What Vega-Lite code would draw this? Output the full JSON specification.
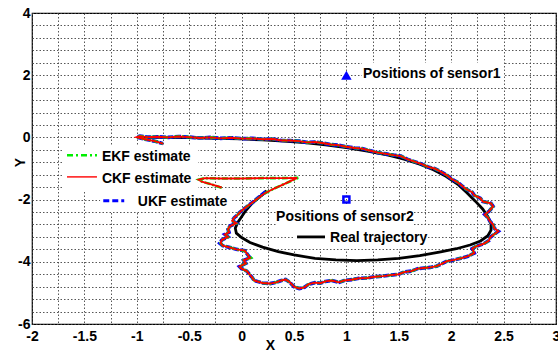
{
  "$schema": "https://vega.github.io/schema/vega-lite/v6.json",
  "width": 524,
  "height": 311,
  "autosize": "none",
  "padding": {"left": 32, "top": 13, "right": 2, "bottom": 28},
  "config": {"view": {"stroke": "#000", "strokeWidth": 1.2}, "font": "Liberation Sans"},
  "datasets": {
    "boxes": [
      {"x": -1.714, "x2": -0.416, "y": -0.28, "y2": -1.70},
      {"x": -1.35, "x2": -0.09, "y": -1.70, "y2": -2.40},
      {"x": 1.149, "x2": 2.504, "y": 2.39, "y2": 1.59},
      {"x": 0.328, "x2": 1.645, "y": -2.2, "y2": -2.82},
      {"x": 0.5, "x2": 1.779, "y": -2.85, "y2": -3.59}
    ],
    "real": [
      {"x": 0.24, "y": -1.72}, {"x": 0.17, "y": -1.92}, {"x": 0.1, "y": -2.12}, {"x": 0.04, "y": -2.35},
      {"x": 0.0, "y": -2.55}, {"x": -0.04, "y": -2.75}, {"x": -0.06, "y": -2.92}, {"x": -0.05, "y": -3.08},
      {"x": 0.0, "y": -3.22}, {"x": 0.08, "y": -3.38}, {"x": 0.2, "y": -3.53}, {"x": 0.35, "y": -3.67},
      {"x": 0.5, "y": -3.78}, {"x": 0.7, "y": -3.89}, {"x": 0.9, "y": -3.94}, {"x": 1.1, "y": -3.96},
      {"x": 1.3, "y": -3.94}, {"x": 1.5, "y": -3.89}, {"x": 1.7, "y": -3.8}, {"x": 1.9, "y": -3.68},
      {"x": 2.05, "y": -3.58}, {"x": 2.18, "y": -3.46}, {"x": 2.28, "y": -3.33}, {"x": 2.35, "y": -3.16},
      {"x": 2.38, "y": -2.98}, {"x": 2.38, "y": -2.78}, {"x": 2.35, "y": -2.55}, {"x": 2.3, "y": -2.3},
      {"x": 2.23, "y": -2.05}, {"x": 2.15, "y": -1.78}, {"x": 2.06, "y": -1.5}, {"x": 1.95, "y": -1.25},
      {"x": 1.83, "y": -1.04}, {"x": 1.7, "y": -0.86}, {"x": 1.55, "y": -0.7}, {"x": 1.4, "y": -0.57},
      {"x": 1.2, "y": -0.44}, {"x": 1.0, "y": -0.33}, {"x": 0.8, "y": -0.24}, {"x": 0.6, "y": -0.17},
      {"x": 0.4, "y": -0.12}, {"x": 0.2, "y": -0.08}, {"x": 0.0, "y": -0.05}, {"x": -0.25, "y": -0.03},
      {"x": -0.5, "y": -0.01}, {"x": -0.75, "y": 0.0}, {"x": -1.0, "y": 0.0}
    ],
    "ukf": [
      {"x": 0.23, "y": -1.74}, {"x": 0.18, "y": -1.88}, {"x": 0.15, "y": -1.96}, {"x": 0.1, "y": -2.1},
      {"x": 0.06, "y": -2.2}, {"x": 0.02, "y": -2.31}, {"x": -0.02, "y": -2.42}, {"x": -0.04, "y": -2.5},
      {"x": -0.07, "y": -2.58}, {"x": -0.09, "y": -2.68}, {"x": -0.05, "y": -2.76}, {"x": -0.11, "y": -2.85},
      {"x": -0.13, "y": -2.95}, {"x": -0.12, "y": -3.05}, {"x": -0.16, "y": -3.12}, {"x": -0.13, "y": -3.2},
      {"x": -0.19, "y": -3.3}, {"x": -0.21, "y": -3.4}, {"x": -0.18, "y": -3.48}, {"x": -0.1, "y": -3.55},
      {"x": -0.05, "y": -3.6}, {"x": 0.03, "y": -3.64}, {"x": 0.06, "y": -3.78}, {"x": 0.08, "y": -3.87},
      {"x": 0.02, "y": -3.95}, {"x": 0.04, "y": -4.05}, {"x": -0.02, "y": -4.15}, {"x": 0.0, "y": -4.22},
      {"x": 0.05, "y": -4.3}, {"x": 0.08, "y": -4.42}, {"x": 0.1, "y": -4.5}, {"x": 0.12, "y": -4.6},
      {"x": 0.2, "y": -4.68}, {"x": 0.27, "y": -4.7}, {"x": 0.33, "y": -4.66}, {"x": 0.38, "y": -4.6},
      {"x": 0.42, "y": -4.57}, {"x": 0.46, "y": -4.66}, {"x": 0.5, "y": -4.8}, {"x": 0.55, "y": -4.86},
      {"x": 0.6, "y": -4.82}, {"x": 0.64, "y": -4.72}, {"x": 0.7, "y": -4.67}, {"x": 0.75, "y": -4.69},
      {"x": 0.8, "y": -4.63}, {"x": 0.86, "y": -4.6}, {"x": 0.93, "y": -4.66}, {"x": 0.98, "y": -4.6},
      {"x": 1.06, "y": -4.57}, {"x": 1.12, "y": -4.53}, {"x": 1.2, "y": -4.52}, {"x": 1.27, "y": -4.48},
      {"x": 1.35, "y": -4.46}, {"x": 1.42, "y": -4.43}, {"x": 1.5, "y": -4.4}, {"x": 1.55, "y": -4.33},
      {"x": 1.62, "y": -4.3}, {"x": 1.68, "y": -4.22}, {"x": 1.74, "y": -4.2}, {"x": 1.8, "y": -4.18},
      {"x": 1.86, "y": -4.14}, {"x": 1.9, "y": -4.08}, {"x": 1.96, "y": -3.98}, {"x": 2.03, "y": -3.94},
      {"x": 2.1, "y": -3.88}, {"x": 2.16, "y": -3.82}, {"x": 2.22, "y": -3.72}, {"x": 2.2, "y": -3.58},
      {"x": 2.24, "y": -3.5}, {"x": 2.31, "y": -3.42}, {"x": 2.36, "y": -3.32}, {"x": 2.37, "y": -3.22},
      {"x": 2.4, "y": -3.14}, {"x": 2.45, "y": -3.02}, {"x": 2.41, "y": -2.92}, {"x": 2.4, "y": -2.8},
      {"x": 2.37, "y": -2.7}, {"x": 2.35, "y": -2.58}, {"x": 2.32, "y": -2.48}, {"x": 2.36, "y": -2.38},
      {"x": 2.4, "y": -2.22}, {"x": 2.38, "y": -2.12}, {"x": 2.3, "y": -2.06}, {"x": 2.28, "y": -1.96},
      {"x": 2.22, "y": -1.86}, {"x": 2.2, "y": -1.76}, {"x": 2.14, "y": -1.66}, {"x": 2.1, "y": -1.55},
      {"x": 2.06, "y": -1.44}, {"x": 2.0, "y": -1.33}, {"x": 1.96, "y": -1.22}, {"x": 1.9, "y": -1.1},
      {"x": 1.84, "y": -1.0}, {"x": 1.78, "y": -0.95}, {"x": 1.72, "y": -0.86}, {"x": 1.65, "y": -0.78},
      {"x": 1.58, "y": -0.7}, {"x": 1.52, "y": -0.6}, {"x": 1.45, "y": -0.57}, {"x": 1.38, "y": -0.53},
      {"x": 1.3, "y": -0.49}, {"x": 1.22, "y": -0.42}, {"x": 1.15, "y": -0.36}, {"x": 1.08, "y": -0.34},
      {"x": 1.0, "y": -0.3}, {"x": 0.92, "y": -0.25}, {"x": 0.85, "y": -0.23}, {"x": 0.77, "y": -0.18},
      {"x": 0.7, "y": -0.15}, {"x": 0.62, "y": -0.16}, {"x": 0.55, "y": -0.12}, {"x": 0.46, "y": -0.1},
      {"x": 0.38, "y": -0.1}, {"x": 0.3, "y": -0.05}, {"x": 0.2, "y": -0.06}, {"x": 0.1, "y": -0.03},
      {"x": 0.0, "y": -0.04}, {"x": -0.1, "y": -0.01}, {"x": -0.2, "y": -0.03}, {"x": -0.3, "y": 0.0},
      {"x": -0.4, "y": -0.02}, {"x": -0.5, "y": 0.01}, {"x": -0.6, "y": 0.03}, {"x": -0.7, "y": 0.0},
      {"x": -0.8, "y": 0.02}, {"x": -0.9, "y": 0.01}, {"x": -0.97, "y": 0.04}, {"x": -1.0, "y": 0.01},
      {"x": -0.92, "y": -0.06}, {"x": -0.83, "y": -0.12}, {"x": -0.75, "y": -0.2}
    ],
    "ekf": [
      {"x": -0.19, "y": -1.62}, {"x": -0.28, "y": -1.52}, {"x": -0.38, "y": -1.42}, {"x": -0.41, "y": -1.36},
      {"x": -0.35, "y": -1.31}, {"x": -0.2, "y": -1.32}, {"x": 0.0, "y": -1.32}, {"x": 0.2, "y": -1.31},
      {"x": 0.4, "y": -1.31}, {"x": 0.54, "y": -1.3}, {"x": 0.42, "y": -1.48}, {"x": 0.3, "y": -1.66},
      {"x": 0.21, "y": -1.82}, {"x": 0.16, "y": -1.95}, {"x": 0.1, "y": -2.11}, {"x": 0.06, "y": -2.2},
      {"x": 0.02, "y": -2.3}, {"x": -0.02, "y": -2.42}, {"x": -0.04, "y": -2.5}, {"x": -0.07, "y": -2.58},
      {"x": -0.09, "y": -2.68}, {"x": -0.05, "y": -2.77}, {"x": -0.11, "y": -2.85}, {"x": -0.13, "y": -2.95},
      {"x": -0.12, "y": -3.05}, {"x": -0.16, "y": -3.12}, {"x": -0.13, "y": -3.2}, {"x": -0.19, "y": -3.3},
      {"x": -0.2, "y": -3.4}, {"x": -0.18, "y": -3.48}, {"x": -0.1, "y": -3.55}, {"x": -0.05, "y": -3.6},
      {"x": 0.03, "y": -3.65}, {"x": 0.06, "y": -3.78}, {"x": 0.09, "y": -3.87}, {"x": 0.02, "y": -3.95},
      {"x": 0.04, "y": -4.05}, {"x": -0.02, "y": -4.15}, {"x": 0.0, "y": -4.22}, {"x": 0.05, "y": -4.3},
      {"x": 0.08, "y": -4.42}, {"x": 0.1, "y": -4.5}, {"x": 0.12, "y": -4.6}, {"x": 0.2, "y": -4.68},
      {"x": 0.27, "y": -4.71}, {"x": 0.33, "y": -4.66}, {"x": 0.38, "y": -4.6}, {"x": 0.42, "y": -4.57},
      {"x": 0.46, "y": -4.66}, {"x": 0.5, "y": -4.8}, {"x": 0.55, "y": -4.85}, {"x": 0.6, "y": -4.82},
      {"x": 0.64, "y": -4.72}, {"x": 0.7, "y": -4.67}, {"x": 0.75, "y": -4.69}, {"x": 0.8, "y": -4.63},
      {"x": 0.86, "y": -4.6}, {"x": 0.93, "y": -4.66}, {"x": 0.98, "y": -4.6}, {"x": 1.06, "y": -4.57},
      {"x": 1.12, "y": -4.53}, {"x": 1.2, "y": -4.52}, {"x": 1.27, "y": -4.48}, {"x": 1.35, "y": -4.46},
      {"x": 1.42, "y": -4.43}, {"x": 1.5, "y": -4.4}, {"x": 1.55, "y": -4.33}, {"x": 1.62, "y": -4.3},
      {"x": 1.68, "y": -4.22}, {"x": 1.74, "y": -4.2}, {"x": 1.8, "y": -4.18}, {"x": 1.86, "y": -4.14},
      {"x": 1.9, "y": -4.08}, {"x": 1.96, "y": -3.98}, {"x": 2.03, "y": -3.94}, {"x": 2.1, "y": -3.88},
      {"x": 2.16, "y": -3.82}, {"x": 2.22, "y": -3.72}, {"x": 2.2, "y": -3.58}, {"x": 2.24, "y": -3.5},
      {"x": 2.31, "y": -3.42}, {"x": 2.36, "y": -3.32}, {"x": 2.37, "y": -3.22}, {"x": 2.4, "y": -3.14},
      {"x": 2.45, "y": -3.02}, {"x": 2.41, "y": -2.92}, {"x": 2.4, "y": -2.8}, {"x": 2.37, "y": -2.7},
      {"x": 2.35, "y": -2.58}, {"x": 2.32, "y": -2.48}, {"x": 2.36, "y": -2.38}, {"x": 2.4, "y": -2.22},
      {"x": 2.38, "y": -2.12}, {"x": 2.3, "y": -2.06}, {"x": 2.28, "y": -1.96}, {"x": 2.22, "y": -1.86},
      {"x": 2.2, "y": -1.76}, {"x": 2.14, "y": -1.66}, {"x": 2.1, "y": -1.55}, {"x": 2.06, "y": -1.44},
      {"x": 2.0, "y": -1.33}, {"x": 1.96, "y": -1.22}, {"x": 1.9, "y": -1.1}, {"x": 1.84, "y": -1.0},
      {"x": 1.78, "y": -0.95}, {"x": 1.72, "y": -0.86}, {"x": 1.65, "y": -0.78}, {"x": 1.58, "y": -0.7},
      {"x": 1.52, "y": -0.6}, {"x": 1.45, "y": -0.57}, {"x": 1.38, "y": -0.53}, {"x": 1.3, "y": -0.49},
      {"x": 1.22, "y": -0.42}, {"x": 1.15, "y": -0.36}, {"x": 1.08, "y": -0.34}, {"x": 1.0, "y": -0.3},
      {"x": 0.92, "y": -0.25}, {"x": 0.85, "y": -0.23}, {"x": 0.77, "y": -0.18}, {"x": 0.7, "y": -0.15},
      {"x": 0.62, "y": -0.16}, {"x": 0.55, "y": -0.12}, {"x": 0.46, "y": -0.1}, {"x": 0.38, "y": -0.1},
      {"x": 0.3, "y": -0.05}, {"x": 0.2, "y": -0.06}, {"x": 0.1, "y": -0.03}, {"x": 0.0, "y": -0.04},
      {"x": -0.1, "y": -0.01}, {"x": -0.2, "y": -0.03}, {"x": -0.3, "y": 0.0}, {"x": -0.4, "y": -0.02},
      {"x": -0.5, "y": 0.01}, {"x": -0.6, "y": 0.03}, {"x": -0.7, "y": 0.0}, {"x": -0.8, "y": 0.02},
      {"x": -0.9, "y": 0.01}, {"x": -0.97, "y": 0.04}, {"x": -1.0, "y": 0.01}, {"x": -0.92, "y": -0.06},
      {"x": -0.83, "y": -0.12}, {"x": -0.75, "y": -0.2}
    ],
    "ckf": [
      {"x": -0.19, "y": -1.61}, {"x": -0.28, "y": -1.52}, {"x": -0.38, "y": -1.42}, {"x": -0.41, "y": -1.36},
      {"x": -0.35, "y": -1.31}, {"x": -0.2, "y": -1.32}, {"x": 0.0, "y": -1.32}, {"x": 0.2, "y": -1.31},
      {"x": 0.4, "y": -1.31}, {"x": 0.53, "y": -1.3}, {"x": 0.42, "y": -1.48}, {"x": 0.3, "y": -1.66},
      {"x": 0.21, "y": -1.82}, {"x": 0.16, "y": -1.95}, {"x": 0.1, "y": -2.1}, {"x": 0.06, "y": -2.2},
      {"x": 0.02, "y": -2.3}, {"x": -0.02, "y": -2.42}, {"x": -0.04, "y": -2.5}, {"x": -0.07, "y": -2.58},
      {"x": -0.09, "y": -2.68}, {"x": -0.05, "y": -2.76}, {"x": -0.11, "y": -2.85}, {"x": -0.13, "y": -2.95},
      {"x": -0.12, "y": -3.05}, {"x": -0.16, "y": -3.12}, {"x": -0.13, "y": -3.2}, {"x": -0.19, "y": -3.3},
      {"x": -0.2, "y": -3.4}, {"x": -0.18, "y": -3.48}, {"x": -0.1, "y": -3.55}, {"x": -0.05, "y": -3.6},
      {"x": 0.03, "y": -3.64}, {"x": 0.06, "y": -3.78}, {"x": 0.08, "y": -3.87}, {"x": 0.02, "y": -3.95},
      {"x": 0.04, "y": -4.05}, {"x": -0.02, "y": -4.15}, {"x": 0.0, "y": -4.22}, {"x": 0.05, "y": -4.3},
      {"x": 0.08, "y": -4.42}, {"x": 0.1, "y": -4.5}, {"x": 0.12, "y": -4.6}, {"x": 0.2, "y": -4.68},
      {"x": 0.27, "y": -4.7}, {"x": 0.33, "y": -4.66}, {"x": 0.38, "y": -4.6}, {"x": 0.42, "y": -4.57},
      {"x": 0.46, "y": -4.66}, {"x": 0.5, "y": -4.8}, {"x": 0.55, "y": -4.86}, {"x": 0.6, "y": -4.82},
      {"x": 0.64, "y": -4.72}, {"x": 0.7, "y": -4.67}, {"x": 0.75, "y": -4.69}, {"x": 0.8, "y": -4.63},
      {"x": 0.86, "y": -4.6}, {"x": 0.93, "y": -4.66}, {"x": 0.98, "y": -4.6}, {"x": 1.06, "y": -4.57},
      {"x": 1.12, "y": -4.53}, {"x": 1.2, "y": -4.52}, {"x": 1.27, "y": -4.48}, {"x": 1.35, "y": -4.46},
      {"x": 1.42, "y": -4.43}, {"x": 1.5, "y": -4.4}, {"x": 1.55, "y": -4.33}, {"x": 1.62, "y": -4.3},
      {"x": 1.68, "y": -4.22}, {"x": 1.74, "y": -4.2}, {"x": 1.8, "y": -4.18}, {"x": 1.86, "y": -4.14},
      {"x": 1.9, "y": -4.08}, {"x": 1.96, "y": -3.98}, {"x": 2.03, "y": -3.94}, {"x": 2.1, "y": -3.88},
      {"x": 2.16, "y": -3.82}, {"x": 2.22, "y": -3.72}, {"x": 2.2, "y": -3.58}, {"x": 2.24, "y": -3.5},
      {"x": 2.31, "y": -3.42}, {"x": 2.36, "y": -3.32}, {"x": 2.37, "y": -3.22}, {"x": 2.4, "y": -3.14},
      {"x": 2.45, "y": -3.02}, {"x": 2.41, "y": -2.92}, {"x": 2.4, "y": -2.8}, {"x": 2.37, "y": -2.7},
      {"x": 2.35, "y": -2.58}, {"x": 2.32, "y": -2.48}, {"x": 2.36, "y": -2.38}, {"x": 2.4, "y": -2.22},
      {"x": 2.38, "y": -2.12}, {"x": 2.3, "y": -2.06}, {"x": 2.28, "y": -1.96}, {"x": 2.22, "y": -1.86},
      {"x": 2.2, "y": -1.76}, {"x": 2.14, "y": -1.66}, {"x": 2.1, "y": -1.55}, {"x": 2.06, "y": -1.44},
      {"x": 2.0, "y": -1.33}, {"x": 1.96, "y": -1.22}, {"x": 1.9, "y": -1.1}, {"x": 1.84, "y": -1.0},
      {"x": 1.78, "y": -0.95}, {"x": 1.72, "y": -0.86}, {"x": 1.65, "y": -0.78}, {"x": 1.58, "y": -0.7},
      {"x": 1.52, "y": -0.6}, {"x": 1.45, "y": -0.57}, {"x": 1.38, "y": -0.53}, {"x": 1.3, "y": -0.49},
      {"x": 1.22, "y": -0.42}, {"x": 1.15, "y": -0.36}, {"x": 1.08, "y": -0.34}, {"x": 1.0, "y": -0.3},
      {"x": 0.92, "y": -0.25}, {"x": 0.85, "y": -0.23}, {"x": 0.77, "y": -0.18}, {"x": 0.7, "y": -0.15},
      {"x": 0.62, "y": -0.16}, {"x": 0.55, "y": -0.12}, {"x": 0.46, "y": -0.1}, {"x": 0.38, "y": -0.1},
      {"x": 0.3, "y": -0.05}, {"x": 0.2, "y": -0.06}, {"x": 0.1, "y": -0.03}, {"x": 0.0, "y": -0.04},
      {"x": -0.1, "y": -0.01}, {"x": -0.2, "y": -0.03}, {"x": -0.3, "y": 0.0}, {"x": -0.4, "y": -0.02},
      {"x": -0.5, "y": 0.01}, {"x": -0.6, "y": 0.03}, {"x": -0.7, "y": 0.0}, {"x": -0.8, "y": 0.02},
      {"x": -0.9, "y": 0.01}, {"x": -0.97, "y": 0.04}, {"x": -1.0, "y": 0.01}, {"x": -0.92, "y": -0.06},
      {"x": -0.83, "y": -0.12}, {"x": -0.75, "y": -0.2}
    ],
    "samples": [
      {"s": "EKF", "x": -1.666, "x2": -1.38, "y": -0.57},
      {"s": "CKF", "x": -1.666, "x2": -1.38, "y": -1.27},
      {"s": "UKF", "x": -1.32, "x2": -1.12, "y": -2.04},
      {"s": "Real", "x": 0.529, "x2": 0.796, "y": -3.2}
    ],
    "labelsLeft": [
      {"t": "EKF estimate", "x": -1.333, "y": -0.63},
      {"t": "CKF estimate", "x": -1.333, "y": -1.34},
      {"t": "UKF estimate", "x": -0.99, "y": -2.08},
      {"t": "Positions of sensor1", "x": 1.158, "y": 2.03},
      {"t": "Real trajectory", "x": 0.844, "y": -3.23}
    ],
    "labelsCenter": [
      {"t": "Positions of sensor2", "x": 0.986, "y": -2.56}
    ],
    "sensor1": [{"x": 1.0, "y": 2.0}],
    "sensor2": [{"x": 1.0, "y": -2.0}]
  },
  "encoding": {
    "x": {
      "field": "x", "type": "quantitative",
      "scale": {"domain": [-2, 3], "nice": false, "zero": false},
      "axis": {
        "values": [-2, -1.75, -1.5, -1.25, -1, -0.75, -0.5, -0.25, 0, 0.25, 0.5, 0.75, 1, 1.25, 1.5, 1.75, 2, 2.25, 2.5, 2.75, 3],
        "labelExpr": "abs(datum.value*2-round(datum.value*2))<0.01 ? toString(datum.value) : ''",
        "grid": true, "gridColor": "#444", "gridDash": [1.5, 2], "gridWidth": 0.9,
        "ticks": false, "domain": false,
        "labelFont": "Liberation Sans", "labelFontWeight": "bold", "labelFontSize": 14, "labelColor": "#000",
        "labelPadding": 5, "labelFlush": false, "labelOverlap": false,
        "title": "X", "titleFont": "Liberation Sans", "titleFontWeight": "bold", "titleFontSize": 14, "titleColor": "#000",
        "titleX": 238, "titleY": 21, "titleBaseline": "middle", "titleAlign": "center"
      }
    },
    "y": {
      "field": "y", "type": "quantitative",
      "scale": {"domain": [-6, 4], "nice": false, "zero": false},
      "axis": {
        "values": [-6, -5.6, -5.2, -4.8, -4.4, -4, -3.6, -3.2, -2.8, -2.4, -2, -1.6, -1.2, -0.8, -0.4, 0, 0.4, 0.8, 1.2, 1.6, 2, 2.4, 2.8, 3.2, 3.6, 4],
        "labelExpr": "abs(datum.value/2-round(datum.value/2))<0.01 ? toString(datum.value) : ''",
        "grid": true, "gridColor": "#444", "gridDash": [1.5, 2], "gridWidth": 0.9,
        "ticks": false, "domain": false,
        "labelFont": "Liberation Sans", "labelFontWeight": "bold", "labelFontSize": 14, "labelColor": "#000",
        "labelPadding": 2, "labelFlush": false, "labelOverlap": false,
        "title": "Y", "titleFont": "Liberation Sans", "titleFontWeight": "bold", "titleFontSize": 14, "titleColor": "#000",
        "titleX": -12, "titleY": 149, "titleAngle": -90, "titleBaseline": "middle", "titleAlign": "center"
      }
    }
  },
  "layer": [
    {
      "data": {"name": "boxes"},
      "mark": {"type": "rect", "fill": "white", "stroke": null},
      "encoding": {"x2": {"field": "x2"}, "y2": {"field": "y2"}}
    },
    {
      "data": {"name": "real"},
      "mark": {"type": "line", "color": "#000", "strokeWidth": 2.8},
      "encoding": {"order": {"value": null}}
    },
    {
      "data": {"name": "ukf"},
      "mark": {"type": "line", "color": "#0000ff", "strokeWidth": 3.6, "strokeDash": [6, 1.5]},
      "encoding": {"order": {"value": null}}
    },
    {
      "data": {"name": "ekf"},
      "mark": {"type": "line", "color": "#00ee00", "strokeWidth": 2.6, "strokeDash": [6, 2, 2, 2]},
      "encoding": {"order": {"value": null}}
    },
    {
      "data": {"name": "ckf"},
      "mark": {"type": "line", "color": "#ff0000", "strokeWidth": 1.9},
      "encoding": {"order": {"value": null}}
    },
    {
      "data": {"name": "samples"},
      "transform": [{"filter": "datum.s == 'EKF'"}],
      "mark": {"type": "rule", "color": "#00ee00", "strokeWidth": 2.5, "strokeDash": [6, 3, 2, 3]},
      "encoding": {"x2": {"field": "x2"}}
    },
    {
      "data": {"name": "samples"},
      "transform": [{"filter": "datum.s == 'CKF'"}],
      "mark": {"type": "rule", "color": "#ff0000", "strokeWidth": 1.4},
      "encoding": {"x2": {"field": "x2"}}
    },
    {
      "data": {"name": "samples"},
      "transform": [{"filter": "datum.s == 'UKF'"}],
      "mark": {"type": "rule", "color": "#0000ff", "strokeWidth": 3, "strokeDash": [6, 3]},
      "encoding": {"x2": {"field": "x2"}}
    },
    {
      "data": {"name": "samples"},
      "transform": [{"filter": "datum.s == 'Real'"}],
      "mark": {"type": "rule", "color": "#000", "strokeWidth": 2.8},
      "encoding": {"x2": {"field": "x2"}}
    },
    {
      "data": {"name": "sensor1"},
      "mark": {"type": "point", "shape": "triangle-up", "filled": true, "color": "#0000ff", "size": 110, "opacity": 1}
    },
    {
      "data": {"name": "sensor2"},
      "mark": {"type": "point", "shape": "square", "filled": false, "color": "#0000ff", "strokeWidth": 2.5, "size": 36, "opacity": 1}
    },
    {
      "data": {"name": "labelsLeft"},
      "mark": {"type": "text", "align": "left", "baseline": "middle", "font": "Liberation Sans", "fontWeight": "bold", "fontSize": 14, "color": "#000"},
      "encoding": {"text": {"field": "t"}}
    },
    {
      "data": {"name": "labelsCenter"},
      "mark": {"type": "text", "align": "center", "baseline": "middle", "font": "Liberation Sans", "fontWeight": "bold", "fontSize": 14, "color": "#000"},
      "encoding": {"text": {"field": "t"}}
    }
  ]
}
